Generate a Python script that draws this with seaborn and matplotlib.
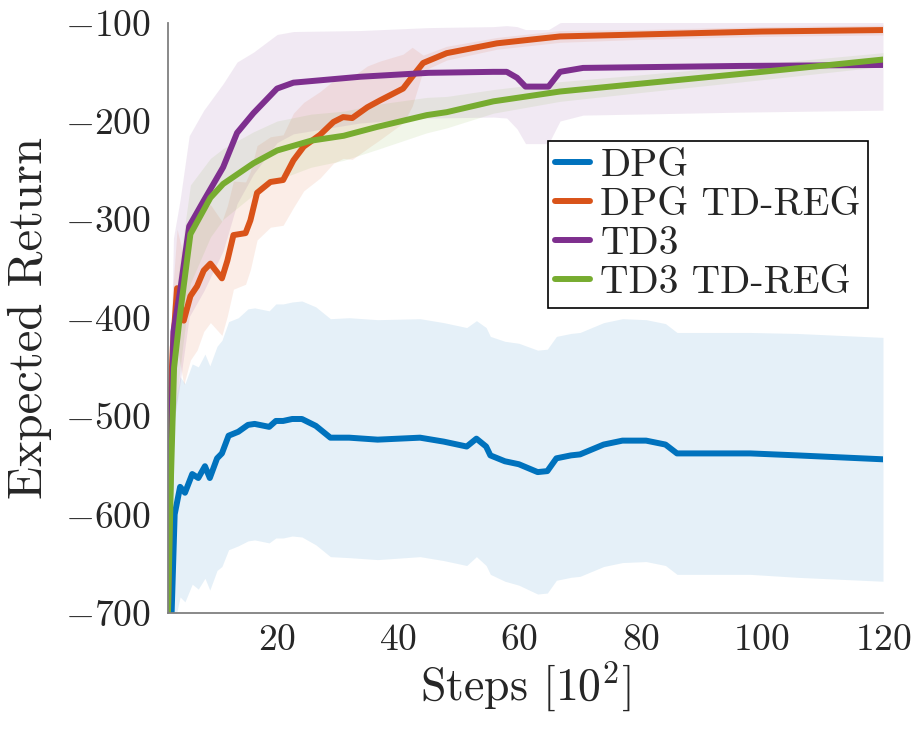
import numpy as np
import pandas as pd
import matplotlib
matplotlib.use("Agg")
import matplotlib.pyplot as plt
import seaborn as sns

# --- data (steps in units of 10^2) ---
dpg_x = [2.6, 3.1, 4.0, 4.8, 6.0, 7.0, 8.1, 8.9, 10.1, 10.9, 12.0, 13.6, 15.2, 16.3,
         18.7, 19.8, 21.0, 22.5, 24.1, 26.4, 27.6, 28.8, 31.9, 36.6, 43.6, 47.5, 51.3,
         52.9, 54.5, 55.2, 57.6, 59.9, 63.0, 64.6, 66.1, 68.5, 70.0, 73.9, 77.0, 80.9,
         84.1, 86.0, 98.1, 105.8, 120]
dpg_mean = [-700, -600, -572, -578, -559, -563, -551, -563, -543, -538, -520, -516, -509,
            -508, -511, -505, -505, -503, -503, -510, -516, -522, -522, -524, -522, -526,
            -531, -523, -531, -540, -546, -549, -557, -556, -543, -540, -539, -529, -525,
            -525, -529, -538, -538, -540, -544]
dpg_std = [110, 110, 112, 111, 112, 113, 114, 114, 114, 115, 116, 116, 118, 118, 118, 119,
           119, 119, 120, 121, 121, 121, 122, 122, 121, 121, 121, 120, 121, 121, 122, 123,
           124, 124, 124, 124, 124, 124, 124, 123, 123, 123, 123, 124, 124]

dpgreg_x = [2.0, 2.3, 2.8, 3.5, 4.6, 5.7, 6.8, 7.9, 9.0, 10.9, 11.8, 12.8, 14.8, 15.6,
            16.7, 18.9, 21.0, 22.7, 24.4, 27.1, 29.3, 30.9, 32.4, 34.9, 37.0, 40.8, 42.3,
            44.1, 48.0, 56.3, 66.7, 80, 100, 120]
dpgreg_mean = [-700, -500, -430, -370, -403, -378, -368, -352, -345, -360, -342, -316, -314,
               -301, -273, -262, -260, -240, -226, -214, -201, -196, -197, -186, -179, -167,
               -155, -141, -131, -121, -114, -112, -109, -107.5]
dpgreg_std = [60, 60, 60, 60, 65, 65, 65, 62, 60, 58, 56, 55, 52, 50, 48, 46, 46, 48, 45,
              44, 42, 42, 42, 42, 40, 35, 30, 8, 7, 6, 6, 5, 5, 5]

td3_x = [2.0, 2.4, 2.9, 4.0, 5.5, 7.9, 11.1, 13.4, 16.1, 20.0, 22.7, 33.7, 45.0, 55.7,
         57.9, 59.6, 61.0, 64.8, 66.7, 70.5, 96.4, 120]
td3_mean = [-700, -560, -414, -373, -307, -281, -247, -212, -192, -167, -161, -155, -151,
            -150, -150, -156, -165, -165, -150, -146, -144, -143]
td3_std = [95, 95, 95, 93, 92, 92, 85, 72, 62, 55, 52, 47, 46, 46, 47, 52, 58, 58, 50, 48,
           47, 46]

td3reg_x = [2.0, 2.5, 3.0, 4.0, 5.7, 9.0, 11.1, 16.1, 20.0, 25.6, 31.0, 36.5, 44.7, 48.0,
            55.7, 66.7, 80, 100, 120]
td3reg_mean = [-700, -560, -451, -396, -315, -278, -264, -243, -230, -220, -215, -206, -194,
               -191, -180, -170, -162, -150, -137.5]
td3reg_std = [60, 60, 58, 55, 50, 40, 36, 32, 30, 27, 25, 23, 18, 16, 12, 10, 9, 8, 7]

labels = ['DPG', 'DPG TD-REG', 'TD3', 'TD3 TD-REG']
colors = ['#0072BD', '#D95319', '#7E2F8E', '#77AC30']

series = [
    (dpg_x, dpg_mean, dpg_std),
    (dpgreg_x, dpgreg_mean, dpgreg_std),
    (td3_x, td3_mean, td3_std),
    (td3reg_x, td3reg_mean, td3reg_std),
]

sns.set_style('white')
plt.rcParams['font.family'] = 'serif'
plt.rcParams['font.serif'] = ['cmr10']
plt.rcParams['mathtext.fontset'] = 'cm'
plt.rcParams['axes.formatter.use_mathtext'] = True

fig = plt.figure(figsize=(9.2, 7.29), dpi=100)
ax = fig.add_axes([0.1826, 0.1595, 0.7772, 0.8094])

# shaded bands first
for (x, m, s), c in zip(series, colors):
    m = np.array(m, dtype=float)
    s = np.array(s, dtype=float)
    ax.fill_between(x, m - s, m + s, color=c, alpha=0.1, linewidth=0)

# mean curves
for (x, m, s), c, lab in zip(series, colors, labels):
    df = pd.DataFrame({'Steps': x, 'Return': m})
    sns.lineplot(data=df, x='Steps', y='Return', color=c, linewidth=4.3,
                 label=lab, ax=ax, sort=False)

ax.set_xlim(2, 120)
ax.set_ylim(-700, -100)
ax.set_xticks([20, 40, 60, 80, 100, 120])
ax.set_yticks([-700, -600, -500, -400, -300, -200, -100])
ax.set_xlabel('Steps $[10^2]$', fontsize=33, labelpad=2)
ax.set_ylabel('Expected Return', fontsize=35, labelpad=10)

for side in ['top', 'right']:
    ax.spines[side].set_visible(False)
for side in ['left', 'bottom']:
    ax.spines[side].set_color('#808080')
    ax.spines[side].set_linewidth(1.3)
ax.tick_params(axis='both', direction='in', length=8, width=1.0, color='#a0a0a0',
               labelsize=27)
ax.tick_params(axis='y', pad=12)
ax.tick_params(axis='x', pad=8)

leg = ax.legend(loc='upper right', bbox_to_anchor=(868 / 920, 1 - 141 / 729),
                bbox_transform=fig.transFigure, fontsize=28.5, frameon=True,
                fancybox=False, framealpha=1, edgecolor='black', borderpad=0.18,
                labelspacing=0.08, handlelength=0.9, handletextpad=0.25,
                borderaxespad=0)
leg.get_frame().set_linewidth(1.2)

fig.savefig('out.png', dpi=100)
